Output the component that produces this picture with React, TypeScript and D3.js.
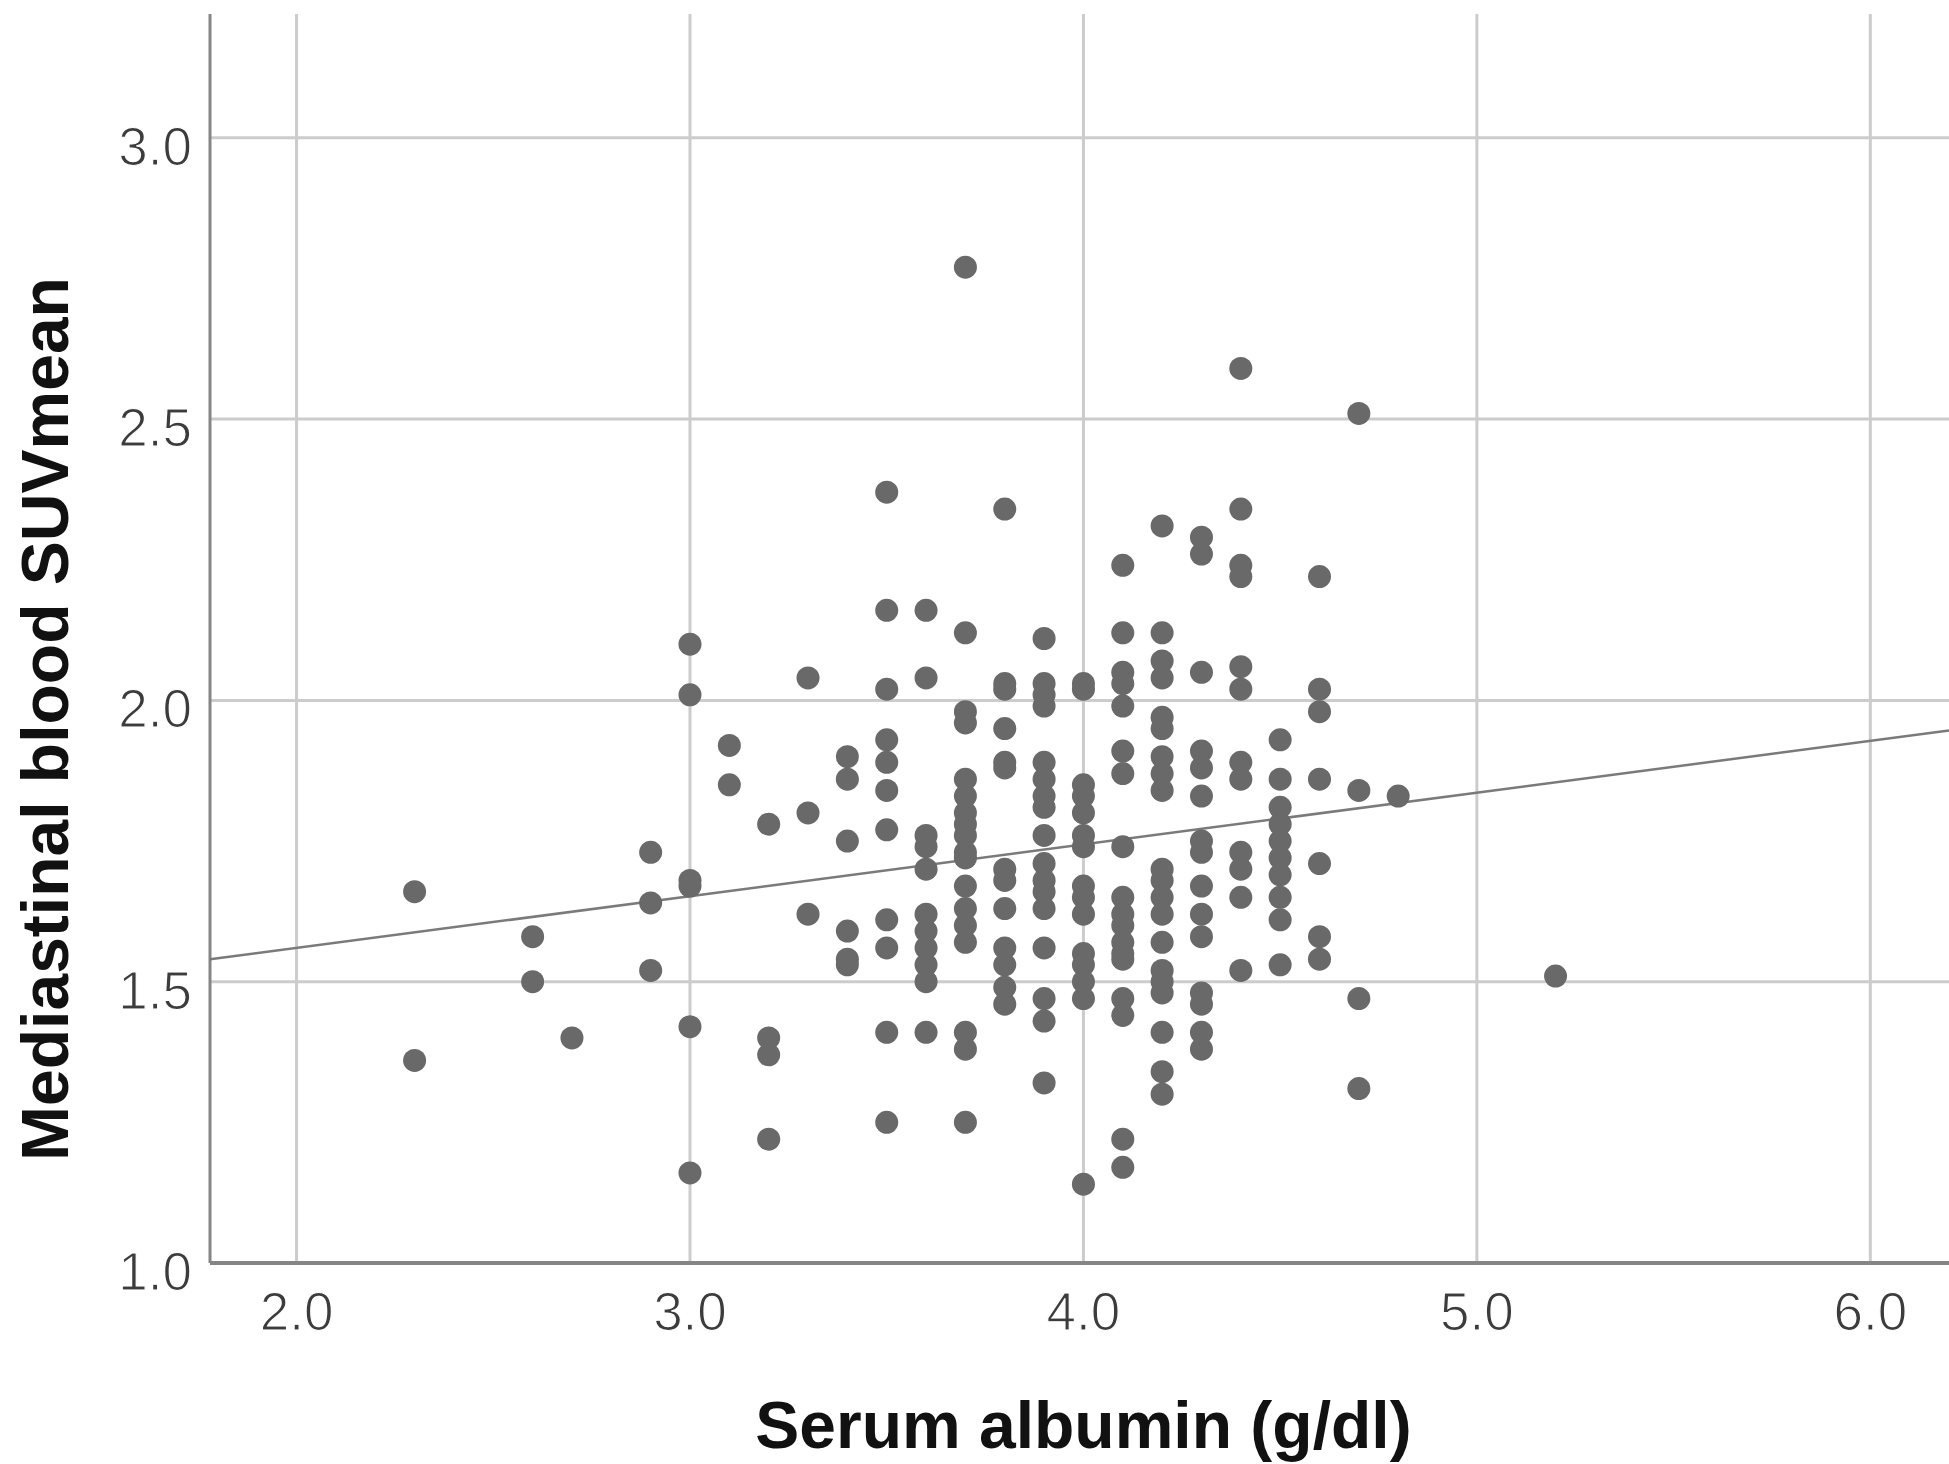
import React from 'react';
import * as d3 from 'd3';

// serum albumin levels (g/dl) and the SUVmean readings at each level
const albuminLevels = [2.3, 2.6, 2.7, 2.9, 3.0, 3.1, 3.2, 3.3, 3.4, 3.5, 3.6, 3.7, 3.8, 3.9, 4.0, 4.1, 4.2, 4.3, 4.4, 4.5, 4.6, 4.7, 4.8, 5.2];

const suvByLevel = [
  [1.66, 1.36],
  [1.58, 1.5],
  [1.4],
  [1.73, 1.64, 1.52],
  [2.1, 2.01, 1.68, 1.67, 1.42, 1.16],
  [1.92, 1.85],
  [1.78, 1.4, 1.37, 1.22],
  [2.04, 1.8, 1.62],
  [1.9, 1.86, 1.75, 1.59, 1.54, 1.53],
  [2.37, 2.16, 2.02, 1.93, 1.89, 1.84, 1.77, 1.61, 1.56, 1.41, 1.25],
  [2.16, 2.04, 1.76, 1.74, 1.7, 1.62, 1.59, 1.56, 1.53, 1.5, 1.41],
  [2.77, 2.12, 1.98, 1.96, 1.86, 1.83, 1.8, 1.78, 1.76, 1.73, 1.72, 1.67, 1.63, 1.6, 1.57, 1.41, 1.38, 1.25],
  [2.34, 2.03, 2.02, 1.95, 1.89, 1.88, 1.7, 1.68, 1.63, 1.56, 1.53, 1.49, 1.46],
  [2.11, 2.03, 2.01, 1.99, 1.89, 1.86, 1.83, 1.81, 1.76, 1.71, 1.68, 1.66, 1.63, 1.56, 1.47, 1.43, 1.32],
  [2.03, 2.02, 1.85, 1.83, 1.8, 1.76, 1.74, 1.67, 1.65, 1.62, 1.55, 1.53, 1.5, 1.47, 1.14],
  [2.24, 2.12, 2.05, 2.03, 1.99, 1.91, 1.87, 1.74, 1.65, 1.62, 1.6, 1.57, 1.55, 1.54, 1.47, 1.44, 1.22, 1.17],
  [2.31, 2.12, 2.07, 2.04, 1.97, 1.95, 1.9, 1.87, 1.84, 1.7, 1.68, 1.65, 1.62, 1.57, 1.52, 1.5, 1.48, 1.41, 1.34, 1.3],
  [2.29, 2.26, 2.05, 1.91, 1.88, 1.83, 1.75, 1.73, 1.67, 1.62, 1.58, 1.48, 1.46, 1.41, 1.38],
  [2.59, 2.34, 2.24, 2.22, 2.06, 2.02, 1.89, 1.86, 1.73, 1.7, 1.65, 1.52],
  [1.93, 1.86, 1.81, 1.78, 1.75, 1.72, 1.69, 1.65, 1.61, 1.53],
  [2.22, 2.02, 1.98, 1.86, 1.71, 1.58, 1.54],
  [2.51, 1.84, 1.47, 1.31],
  [1.83],
  [1.51],
];

const xTicks = [2.0, 3.0, 4.0, 5.0, 6.0];
const yTicks = [1.0, 1.5, 2.0, 2.5, 3.0];

// fit line: suv = intercept + slope * albumin
const fitIntercept = 1.376;
const fitSlope = 0.092;

const W = 1949;
const H = 1464;
const left = 210;
const top = 14;
const bottom = 1263;

const font = '"Liberation Sans", Arial, sans-serif';

export default function App() {
  const x = d3.scaleLinear().domain([1.78, 6.2]).range([left, W]);
  const y = d3.scaleLinear().domain([1.0, 3.22]).range([bottom, top]);
  const fmt = d3.format('.1f');

  const points = albuminLevels.flatMap((a, i) => suvByLevel[i].map(s => ({ a, s })));

  const [x0, x1] = x.domain();
  const fit = d3.line<number>()
    .x(d => x(d))
    .y(d => y(fitIntercept + fitSlope * d));

  return (
    <svg width={W} height={H} style={{ position: 'absolute', left: 0, top: 0, background: '#fff' }}>
      <g>
        {xTicks.map(t => (
          <line key={'gx' + t} x1={x(t)} x2={x(t)} y1={top} y2={bottom} stroke="#cccccc" strokeWidth={3} />
        ))}
        {yTicks.filter(t => t > 1).map(t => (
          <line key={'gy' + t} x1={left} x2={W} y1={y(t)} y2={y(t)} stroke="#cccccc" strokeWidth={3} />
        ))}
      </g>
      <line x1={left} x2={left} y1={top} y2={bottom} stroke="#858585" strokeWidth={3} />
      <line x1={left} x2={W} y1={bottom} y2={bottom} stroke="#858585" strokeWidth={4} />

      <path d={fit([x0, x1]) || ''} fill="none" stroke="#7a7a7a" strokeWidth={2.5} />

      <g fill="#696969">
        {points.map((p, i) => (
          <circle key={i} cx={x(p.a)} cy={y(p.s)} r={11.5} />
        ))}
      </g>

      {/* thin white outline makes the tick digits look lighter, like the original */}
      <g fontFamily={font} fontSize={53} fill="#3c3c3c" stroke="#fff" strokeWidth={1.2}>
        {yTicks.map(t => (
          <text key={'ly' + t} x={192} y={y(t) + 27} textAnchor="end">{fmt(t)}</text>
        ))}
        {xTicks.map(t => (
          <text key={'lx' + t} x={x(t)} y={1330} textAnchor="middle">{fmt(t)}</text>
        ))}
      </g>

      <text x={x(4.0)} y={1448} textAnchor="middle" fontFamily={font} fontWeight="bold" fontSize={66} fill="#111">
        Serum albumin (g/dl)
      </text>
      <text
        transform={`translate(68, 719) rotate(-90)`}
        textAnchor="middle"
        fontFamily={font}
        fontWeight="bold"
        fontSize={66}
        fill="#111"
      >
        Mediastinal blood SUVmean
      </text>
    </svg>
  );
}
